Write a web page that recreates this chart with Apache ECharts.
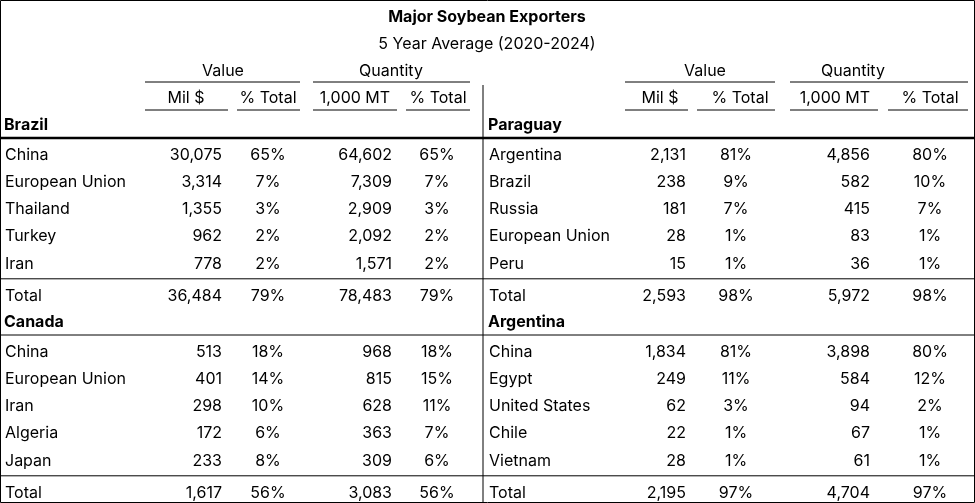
<!DOCTYPE html>
<html><head><meta charset="utf-8">
<script src="https://cdn.jsdelivr.net/npm/echarts@6/dist/echarts.min.js"></script>
<style>html,body{margin:0;padding:0;background:#fff}#main{width:975px;height:503px}</style>
</head><body><div id="main"></div>
<script>
var title = "Major Soybean Exporters";
var subtitle = "5 Year Average (2020-2024)";
var groupHeads = ["Value", "Quantity"];
var colHeads = ["Mil $", "% Total", "1,000 MT", "% Total"];

var brazilRows = [
	["China", "30,075", "65%", "64,602", "65%"],
	["European Union", "3,314", "7%", "7,309", "7%"],
	["Thailand", "1,355", "3%", "2,909", "3%"],
	["Turkey", "962", "2%", "2,092", "2%"],
	["Iran", "778", "2%", "1,571", "2%"]
];
var brazilTotal = ["Total", "36,484", "79%", "78,483", "79%"];
var canadaRows = [
	["China", "513", "18%", "968", "18%"],
	["European Union", "401", "14%", "815", "15%"],
	["Iran", "298", "10%", "628", "11%"],
	["Algeria", "172", "6%", "363", "7%"],
	["Japan", "233", "8%", "309", "6%"]
];
var canadaTotal = ["Total", "1,617", "56%", "3,083", "56%"];
var paraguayRows = [
	["Argentina", "2,131", "81%", "4,856", "80%"],
	["Brazil", "238", "9%", "582", "10%"],
	["Russia", "181", "7%", "415", "7%"],
	["European Union", "28", "1%", "83", "1%"],
	["Peru", "15", "1%", "36", "1%"]
];
var paraguayTotal = ["Total", "2,593", "98%", "5,972", "98%"];
var argentinaRows = [
	["China", "1,834", "81%", "3,898", "80%"],
	["Egypt", "249", "11%", "584", "12%"],
	["United States", "62", "3%", "94", "2%"],
	["Chile", "22", "1%", "67", "1%"],
	["Vietnam", "28", "1%", "61", "1%"]
];
var argentinaTotal = ["Total", "2,195", "97%", "4,704", "97%"];

var FONT = 'Inter, "Noto Sans", sans-serif';
var FS = 16;
var g = [];
function txt(x, y, s, align, bold, size) {
	g.push({ type: 'text', x: x, y: y, style: { text: s, font: (bold ? 'bold ' : '') + (size || FS) + 'px ' + FONT, fill: '#000', align: align || 'left', verticalAlign: 'middle' } });
}
function line(x1, y1, x2, y2, w) {
	g.push({ type: 'line', shape: { x1: x1, y1: y1, x2: x2, y2: y2 }, style: { stroke: '#000', lineWidth: w || 1 } });
}

// column layouts: [name x, mil$ right, %center, qty right, %center]
var leftCols = { name: 5, c: [[222, 'right'], [268, 'center'], [392, 'right'], [437, 'center']],
	heads: [[186, 145, 228], [268, 237, 300], [355, 313, 397], [438, 406, 470]], groups: [[223, 145, 300], [391, 313, 470]] };
var rightCols = { name: 489, c: [[686, 'right'], [736, 'center'], [870, 'right'], [930, 'center']],
	heads: [[660, 625, 688], [740, 697, 775], [835, 790, 878], [930, 888, 968]], groups: [[705, 625, 775], [853, 790, 968]] };

txt(487, 17, title, 'center', true);
txt(487, 44, subtitle, 'center');

[leftCols, rightCols].forEach(function (L) {
	L.groups.forEach(function (gp, i) { txt(gp[0], 71, groupHeads[i], 'center'); line(gp[1], 82, gp[2], 82); });
	L.heads.forEach(function (h, i) { txt(h[0], 98, colHeads[i], 'center'); line(h[1], 110, h[2], 110); });
});

function block(L, name, rows, total, y0, thick) {
	txt(L.name - 1, y0, name, 'left', true);
	var x2 = L === leftCols ? 483 : 975, x1 = L === leftCols ? 0 : 483;
	line(x1, y0 + 13, x2, y0 + 13, thick ? 2.5 : 1);
	rows.forEach(function (r, i) {
		var y = y0 + 30 + i * 27.2;
		txt(L.name, y, r[0]);
		L.c.forEach(function (c, j) { txt(c[0], y, r[j + 1], c[1]); });
	});
	var ly = y0 + 30 + 4 * 27.2 + 15;
	line(x1, ly, x2, ly, 1);
	var ty = ly + 17;
	txt(L.name, ty, total[0]);
	L.c.forEach(function (c, j) { txt(c[0], ty, total[j + 1], c[1]); });
}
block(leftCols, "Brazil", brazilRows, brazilTotal, 125, true);
block(rightCols, "Paraguay", paraguayRows, paraguayTotal, 125, true);
block(leftCols, "Canada", canadaRows, canadaTotal, 322, false);
block(rightCols, "Argentina", argentinaRows, argentinaTotal, 322, false);

line(483, 85, 483, 503, 1);
g.push({ type: 'rect', shape: { x: 0.5, y: 0.5, width: 974, height: 502 }, style: { fill: null, stroke: '#000', lineWidth: 1 } });

var myChart = echarts.init(document.getElementById('main'));
myChart.setOption({ animation: false, graphic: { elements: g } });
</script></body></html>
